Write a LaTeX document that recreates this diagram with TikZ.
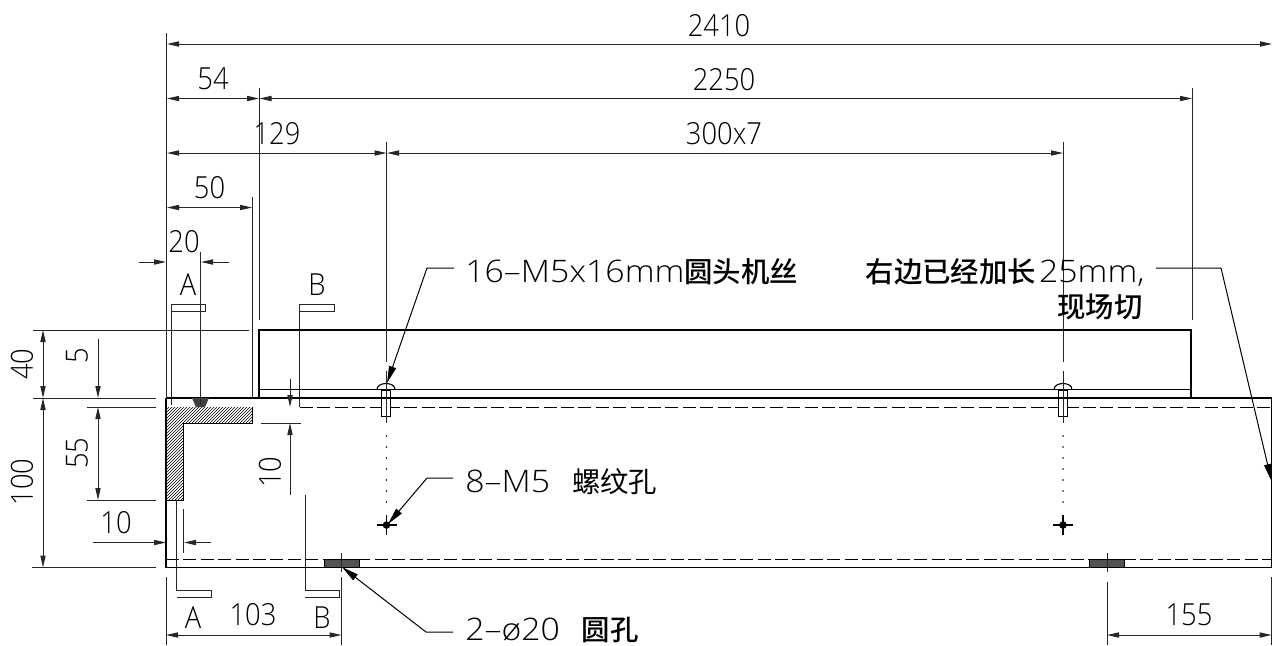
\documentclass[tikz,border=0pt]{standalone}
\usepackage{fontspec}
\usetikzlibrary{arrows.meta}
\setmainfont{Liberation Sans}
\newfontfamily\dimf[FakeStretch=0.9]{Open Sans Light}
\newfontfamily\leadf[FakeStretch=1.09]{Open Sans Light}
\newfontfamily\cjk{Noto Sans CJK SC}
\newfontfamily\cjkm{Noto Sans CJK SC Medium}
\newcommand{\cjkr}[1]{{\fontsize{14.2}{14}\selectfont\cjk #1}}
\newcommand{\cjkb}[1]{{\fontsize{14.2}{14}\selectfont\cjkm #1}}
\tikzset{
  thinl/.style={line width=0.5pt,black!85},
  thickl/.style={line width=0.95pt,black},
  dashl/.style={line width=0.5pt,black,dash pattern=on 6.5pt off 2.2pt},
  dimar/.style={thinl,{Triangle[length=6pt,width=2.6pt]}-{Triangle[length=6pt,width=2.6pt]}},
  onear/.style={thinl,-{Triangle[length=6pt,width=2.6pt]}},
  leadl/.style={line width=0.5pt,black,{Triangle[length=8.5pt,width=3.6pt]}-},
  dimtxt/.style={inner sep=0pt,font=\dimf\fontsize{15.2}{15}\selectfont},
  leadtxt/.style={inner sep=0pt,font=\leadf\fontsize{15.5}{16}\selectfont},
  holefill/.style={draw=black,line width=0.5pt,fill=black!68},
}
\begin{document}
\begin{tikzpicture}[x=0.5pt,y=-0.5pt]
\useasboundingbox (0,0) rectangle (1272,645);
\fill[white] (0,0) rectangle (1272,645);

% hatched section
\begin{scope}
  \clip (166,407) -- (252,407) -- (252,423.5) -- (183.5,423.5) -- (183.5,500) -- (166,500) -- cycle;
  \foreach \i in {60,63,...,174} \draw[line width=0.3pt] (\i,510) -- ({\i+115},395);
\end{scope}
\draw[line width=0.5pt,black] (252,407) -- (252,423.5) -- (183.5,423.5) -- (183.5,500) -- (166,500);

% body
\draw[thickl] (166,398) -- (1271.5,398);
\draw[thickl] (166,567.5) -- (1271.5,567.5);
\draw[thickl] (166,398) -- (166,567.5);
\draw[line width=0.6pt] (1271.5,398) -- (1271.5,567.5);
\draw[dashl] (300,407) -- (1271.5,407);
\draw[dashl] (166,559) -- (1271.5,559);

% upper plate
\draw[thickl] (259,398) -- (259,330) -- (1191,330) -- (1191,398);
\draw[thickl] (259,389.5) -- (1191,389.5);

% weld
\fill[black!75] (192,398) -- (209,398) -- (205,407) -- (196,407) -- cycle;

% bolts
\foreach \cx in {386,1063} {
  \draw[line width=0.55pt,fill=white] ({\cx-4.5},390) rectangle ({\cx+4.5},416.5);
  \draw[line width=0.55pt,fill=white] ({\cx-9},389.5) .. controls ({\cx-9},381.5) and ({\cx+9},381.5) .. ({\cx+9},389.5);
}
\draw[thickl] (377,389.5) -- (395,389.5);
\draw[thickl] (1054,389.5) -- (1072,389.5);
\draw[thickl] (377,398) -- (395,398);
\draw[thickl] (1054,398) -- (1072,398);

% center lines and holes
\foreach \cx in {386.5,1063} {
  \draw[thinl] (\cx,371) -- (\cx,423);
  \foreach \dy in {436,447,458,469,480,491,502} \fill (\cx,\dy) circle (0.45pt);
  \draw[line width=0.6pt] ({\cx-10},525) -- ({\cx+10},525) (\cx,515) -- (\cx,535);
  \fill (\cx,525) circle (1.9pt);
}

% round holes
\draw[holefill] (324,559) rectangle (359,567);
\draw[holefill] (1089,559) rectangle (1124,567);
\draw[thinl] (341,553) -- (341,572);
\draw[thinl] (1107,553) -- (1107,572);

% extension lines
\draw[thinl] (166.5,33) -- (166.5,398);
\draw[thinl] (259,88) -- (259,320);
\draw[thinl] (1192,88) -- (1192,320);
\draw[thinl] (386.5,142) -- (386.5,362);
\draw[thinl] (1063,142) -- (1063,362);
\draw[thinl] (252,197) -- (252,398);
\draw[thinl] (200.5,252) -- (200.5,405);
\draw[thinl] (33,330) -- (249,330);
\draw[thinl] (33,398) -- (156,398);
\draw[thinl] (87,407) -- (156,407);
\draw[thinl] (87,500) -- (156,500);
\draw[thinl] (32,567.5) -- (156,567.5);
\draw[thinl] (261,423) -- (301,423);
\draw[thinl] (183,509) -- (183,553);
\draw[thinl] (166,577) -- (166,645);
\draw[thinl] (341.5,577) -- (341.5,645);
\draw[thinl] (1107,582) -- (1107,645);
\draw[thinl] (1271.5,577) -- (1271.5,645);

% dimension lines
\draw[dimar] (167,44) -- (1272,44);
\draw[dimar] (167,98.5) -- (259,98.5);
\draw[dimar] (259.5,98.5) -- (1192,98.5);
\draw[dimar] (167,153) -- (386.5,153);
\draw[dimar] (387,153) -- (1063,153);
\draw[dimar] (167,207.5) -- (252,207.5);
\draw[onear] (139,262) -- (166,262);
\draw[onear] (229,262) -- (201,262);
\draw[dimar] (43,330) -- (43,398);
\draw[dimar] (43,398) -- (43,567.5);
\draw[onear] (98,339) -- (98,398);
\draw[dimar] (98,407) -- (98,500);
\draw[onear] (93,542.5) -- (166,542.5);
\draw[onear] (211,542.5) -- (184,542.5);
\draw[onear] (290,379) -- (290,407);
\draw[onear] (290,495) -- (290,423);
\draw[dimar] (166,635) -- (341.5,635);
\draw[dimar] (1107,635) -- (1271.5,635);

% section markers
\draw[thinl] (171.5,405) -- (171.5,304) -- (205,304) -- (205,311) -- (171.5,311);
\draw[thinl] (299.5,407) -- (299.5,304) -- (334,304) -- (334,311) -- (299.5,311);
\draw[thinl] (176.5,500) -- (176.5,590) -- (211,590) -- (211,597) -- (176.5,597);
\draw[thinl] (305,495) -- (305,590) -- (339.5,590) -- (339.5,597) -- (305,597);

% dimension texts
\node[dimtxt] (t2410) at (719,26) {2410};
\node[dimtxt] (t54) at (213,79) {54};
\node[dimtxt] (t2250) at (724,80) {2250};
\node[dimtxt] (t129) at (277,134) {129};
\node[dimtxt] (t300) at (724,134) {300x7};
\node[dimtxt] (t50) at (209.5,187.5) {50};
\node[dimtxt] (t20) at (184,242) {20};
\node[dimtxt] (tA1) at (188,285) {A};
\node[dimtxt] (tB1) at (317,285) {B};
\node[dimtxt,rotate=90] (t40) at (22,364) {40};
\node[dimtxt,rotate=90] (t5) at (77,356) {5};
\node[dimtxt,rotate=90] (t55) at (77,453) {55};
\node[dimtxt,rotate=90] (t100) at (22,482) {100};
\node[dimtxt,rotate=90] (t10b) at (270,472) {10};
\node[dimtxt] (t10a) at (116,523) {10};
\node[dimtxt] (tA2) at (193,618) {A};
\node[dimtxt] (t103) at (253,615) {103};
\node[dimtxt] (tB2) at (322,618) {B};
\node[dimtxt] (t155) at (1189,615) {155};

% leader texts
\node[leadtxt,anchor=base west] (lbolt) at (465,282) {16–M5x16mm\cjkb{圆头机丝}};
\node[leadtxt,anchor=base west] (lthread) at (465,492) {8–M5\hspace{11pt}\cjkr{螺纹孔}};
\node[leadtxt,anchor=base west] (lhole) at (465,640) {2–ø20\hspace{11pt}\cjkb{圆孔}};
\node[leadtxt,anchor=base east] (lright) at (1145,282) {\cjkb{右边已经加长}\hspace{1.5pt}25mm,};
\node[leadtxt,anchor=base east] (lcut) at (1143,317) {\cjkb{现场切}};

% leaders
\coordinate (tipbolt) at (387,383);
\coordinate (elbolt) at (427,268);
\coordinate (endbolt) at (454,268);
\draw[leadl] (tipbolt) -- (elbolt) -- (endbolt);
\coordinate (tipth) at (388,524);
\coordinate (elth) at (427,478);
\coordinate (endth) at (453,478);
\draw[leadl] (tipth) -- (elth) -- (endth);
\coordinate (tiph) at (342,567);
\coordinate (elh) at (426,632);
\coordinate (endh) at (453,632);
\draw[leadl] (tiph) -- (elh) -- (endh);
\coordinate (tipr) at (1271.5,481);
\coordinate (elr) at (1221,268);
\coordinate (endr) at (1156,268);
\draw[leadl] (tipr) -- (elr) -- (endr);
\end{tikzpicture}
\end{document}
